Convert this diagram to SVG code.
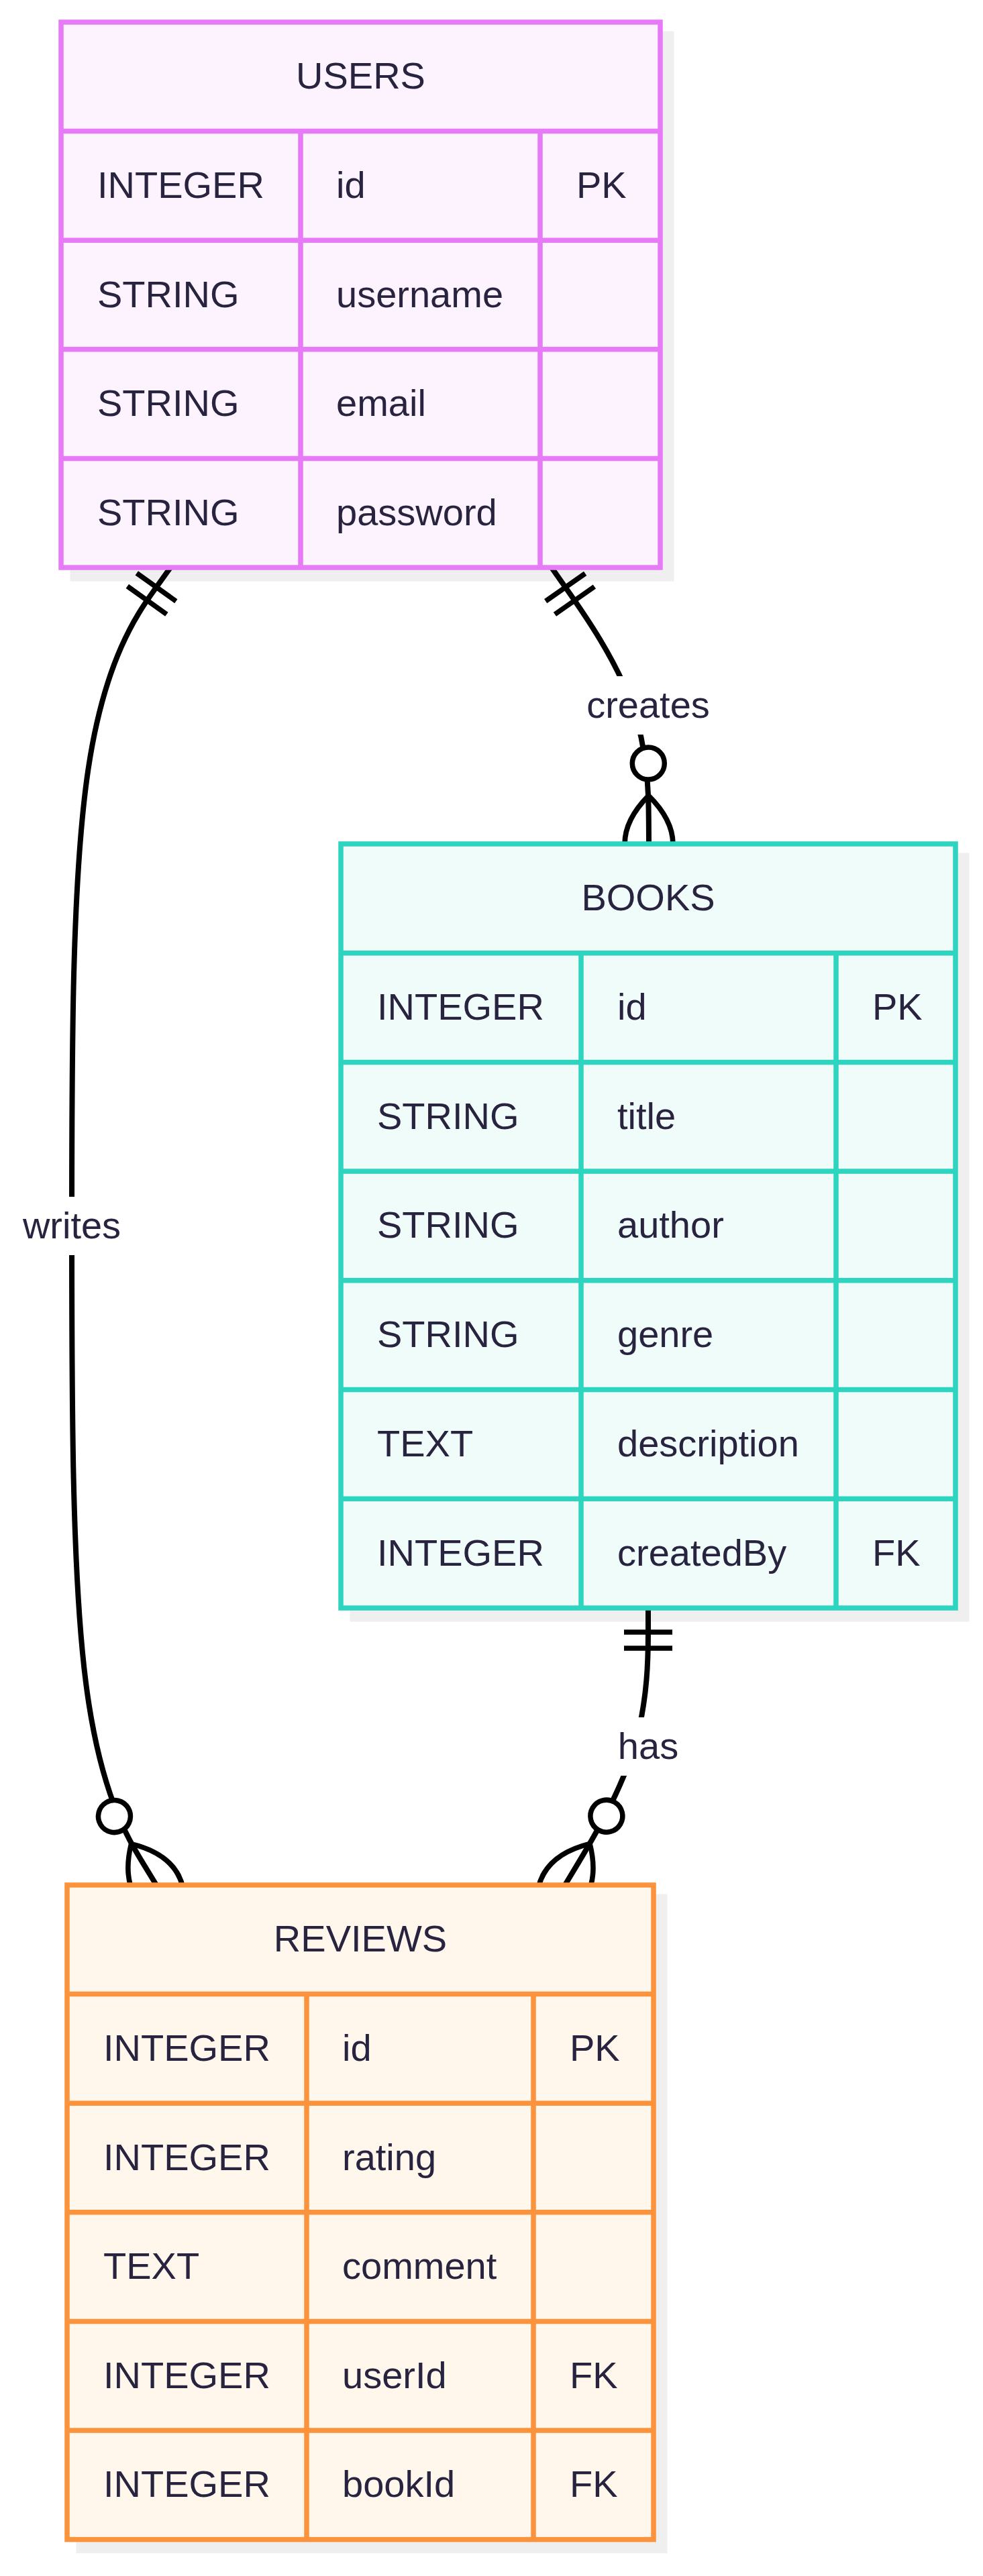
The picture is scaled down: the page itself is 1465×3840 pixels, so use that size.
<svg xmlns="http://www.w3.org/2000/svg" width="1465" height="3840" viewBox="0 0 1465 3840">
<style>
.shadow{fill:#efefef}
.t{font-family:"Liberation Sans",Arial,Helvetica,sans-serif;font-size:56px;fill:#28233F}
.c{text-anchor:middle}
.edge{fill:none;stroke:#000;stroke-width:8px}
.lblbg{fill:#fff}
.users .box{fill:#FDF3FE;stroke:#E77AF6;stroke-width:7.5px}
.users .ln{stroke:#E77AF6;stroke-width:7.5px;fill:none}
.books .box{fill:#EFFCF9;stroke:#2DD4BF;stroke-width:7.5px}
.books .ln{stroke:#2DD4BF;stroke-width:7.5px;fill:none}
.reviews .box{fill:#FFF6EC;stroke:#FB923C;stroke-width:7.5px}
.reviews .ln{stroke:#FB923C;stroke-width:7.5px;fill:none}
</style>
<defs>
<marker id="oneStart" markerUnits="userSpaceOnUse" orient="auto" refX="0" refY="36" markerWidth="80" markerHeight="80" overflow="visible">
<path d="M36,0 L36,72 M60,0 L60,72" fill="none" stroke="#000" stroke-width="7.5"/>
</marker>
<marker id="manyEnd" markerUnits="userSpaceOnUse" orient="auto" refX="156" refY="72" markerWidth="240" markerHeight="150" overflow="visible">
<path d="M84,72 Q156,0 228,72 Q156,144 84,72" fill="none" stroke="#000" stroke-width="7.5"/>
<circle cx="36" cy="72" r="24" fill="#fff" stroke="#000" stroke-width="7.5"/>
</marker>
</defs>
<rect width="1465" height="3840" fill="#fff"/>
<g id="shadows">
<rect class="shadow" x="104.5" y="46.5" width="900" height="820"/>
<rect class="shadow" x="521.5" y="1271.5" width="923" height="1146"/>
<rect class="shadow" x="113.5" y="2823.5" width="881" height="982.6"/>
</g>
<g id="connectors">
<path id="e-writes" class="edge" marker-start="url(#oneStart)" marker-end="url(#manyEnd)" d="M254,846 L229.5,880.25 C205,914.5 156,983 131.5,1146.6 C107,1310.2 107,1568.8 107,1827.5 C107,2086.2 107,2344.8 128,2508.6 C149,2672.3 191,2741.2 212,2775.6 L233,2810"/>
<path id="e-creates" class="edge" marker-start="url(#oneStart)" marker-end="url(#manyEnd)" d="M822,846 L846,880.25 C870,914.5 918,983 942.2,1051.7 C966.3,1120.3 966.7,1189.2 966.8,1223.6 L967,1258"/>
<path id="e-has" class="edge" marker-start="url(#oneStart)" marker-end="url(#manyEnd)" d="M966,2397 L966,2431.4 C966,2465.8 966,2534.7 945.3,2603.5 C924.7,2672.3 883.3,2741.2 862.7,2775.6 L842,2810"/>
<rect class="lblbg" x="33" y="1784" width="148" height="87"/>
<text class="t c" x="107" y="1846">writes</text>
<rect class="lblbg" x="874" y="1008" width="184" height="87"/>
<text class="t c" x="966" y="1070">creates</text>
<rect class="lblbg" x="921" y="2560" width="90" height="87"/>
<text class="t c" x="966" y="2622">has</text>
</g>
<g id="USERS" class="users">
<rect class="box" x="91" y="33" width="893" height="813"/>
<path class="ln" d="M91,195.6H984M91,358.2H984M91,520.8H984M91,683.4H984M448,195.6V846M805,195.6V846"/>
<text class="t c" x="537.5" y="132">USERS</text>
<text class="t" x="145" y="295">INTEGER</text><text class="t" x="501" y="295">id</text><text class="t" x="859" y="295">PK</text>
<text class="t" x="145" y="457.5">STRING</text><text class="t" x="501" y="457.5">username</text>
<text class="t" x="145" y="620">STRING</text><text class="t" x="501" y="620">email</text>
<text class="t" x="145" y="782.7">STRING</text><text class="t" x="501" y="782.7">password</text>
</g>
<g id="BOOKS" class="books">
<rect class="box" x="508" y="1258" width="916" height="1139"/>
<path class="ln" d="M508,1420.7H1424M508,1583.4H1424M508,1746.1H1424M508,1908.8H1424M508,2071.5H1424M508,2234.2H1424M866,1420.7V2397M1246,1420.7V2397"/>
<text class="t c" x="966" y="1357">BOOKS</text>
<text class="t" x="562" y="1520">INTEGER</text><text class="t" x="920" y="1520">id</text><text class="t" x="1300" y="1520">PK</text>
<text class="t" x="562" y="1682.7">STRING</text><text class="t" x="920" y="1682.7">title</text>
<text class="t" x="562" y="1845.4">STRING</text><text class="t" x="920" y="1845.4">author</text>
<text class="t" x="562" y="2008.1">STRING</text><text class="t" x="920" y="2008.1">genre</text>
<text class="t" x="562" y="2170.8">TEXT</text><text class="t" x="920" y="2170.8">description</text>
<text class="t" x="562" y="2333.5">INTEGER</text><text class="t" x="920" y="2333.5">createdBy</text><text class="t" x="1300" y="2333.5">FK</text>
</g>
<g id="REVIEWS" class="reviews">
<rect class="box" x="100" y="2810" width="874" height="975.6"/>
<path class="ln" d="M100,2972.6H974M100,3135.2H974M100,3297.8H974M100,3460.4H974M100,3623H974M457,2972.6V3785.6M795,2972.6V3785.6"/>
<text class="t c" x="537" y="2909">REVIEWS</text>
<text class="t" x="154" y="3072">INTEGER</text><text class="t" x="510" y="3072">id</text><text class="t" x="849" y="3072">PK</text>
<text class="t" x="154" y="3234.5">INTEGER</text><text class="t" x="510" y="3234.5">rating</text>
<text class="t" x="154" y="3397">TEXT</text><text class="t" x="510" y="3397">comment</text>
<text class="t" x="154" y="3559.7">INTEGER</text><text class="t" x="510" y="3559.7">userId</text><text class="t" x="849" y="3559.7">FK</text>
<text class="t" x="154" y="3722.3">INTEGER</text><text class="t" x="510" y="3722.3">bookId</text><text class="t" x="849" y="3722.3">FK</text>
</g>
</svg>
